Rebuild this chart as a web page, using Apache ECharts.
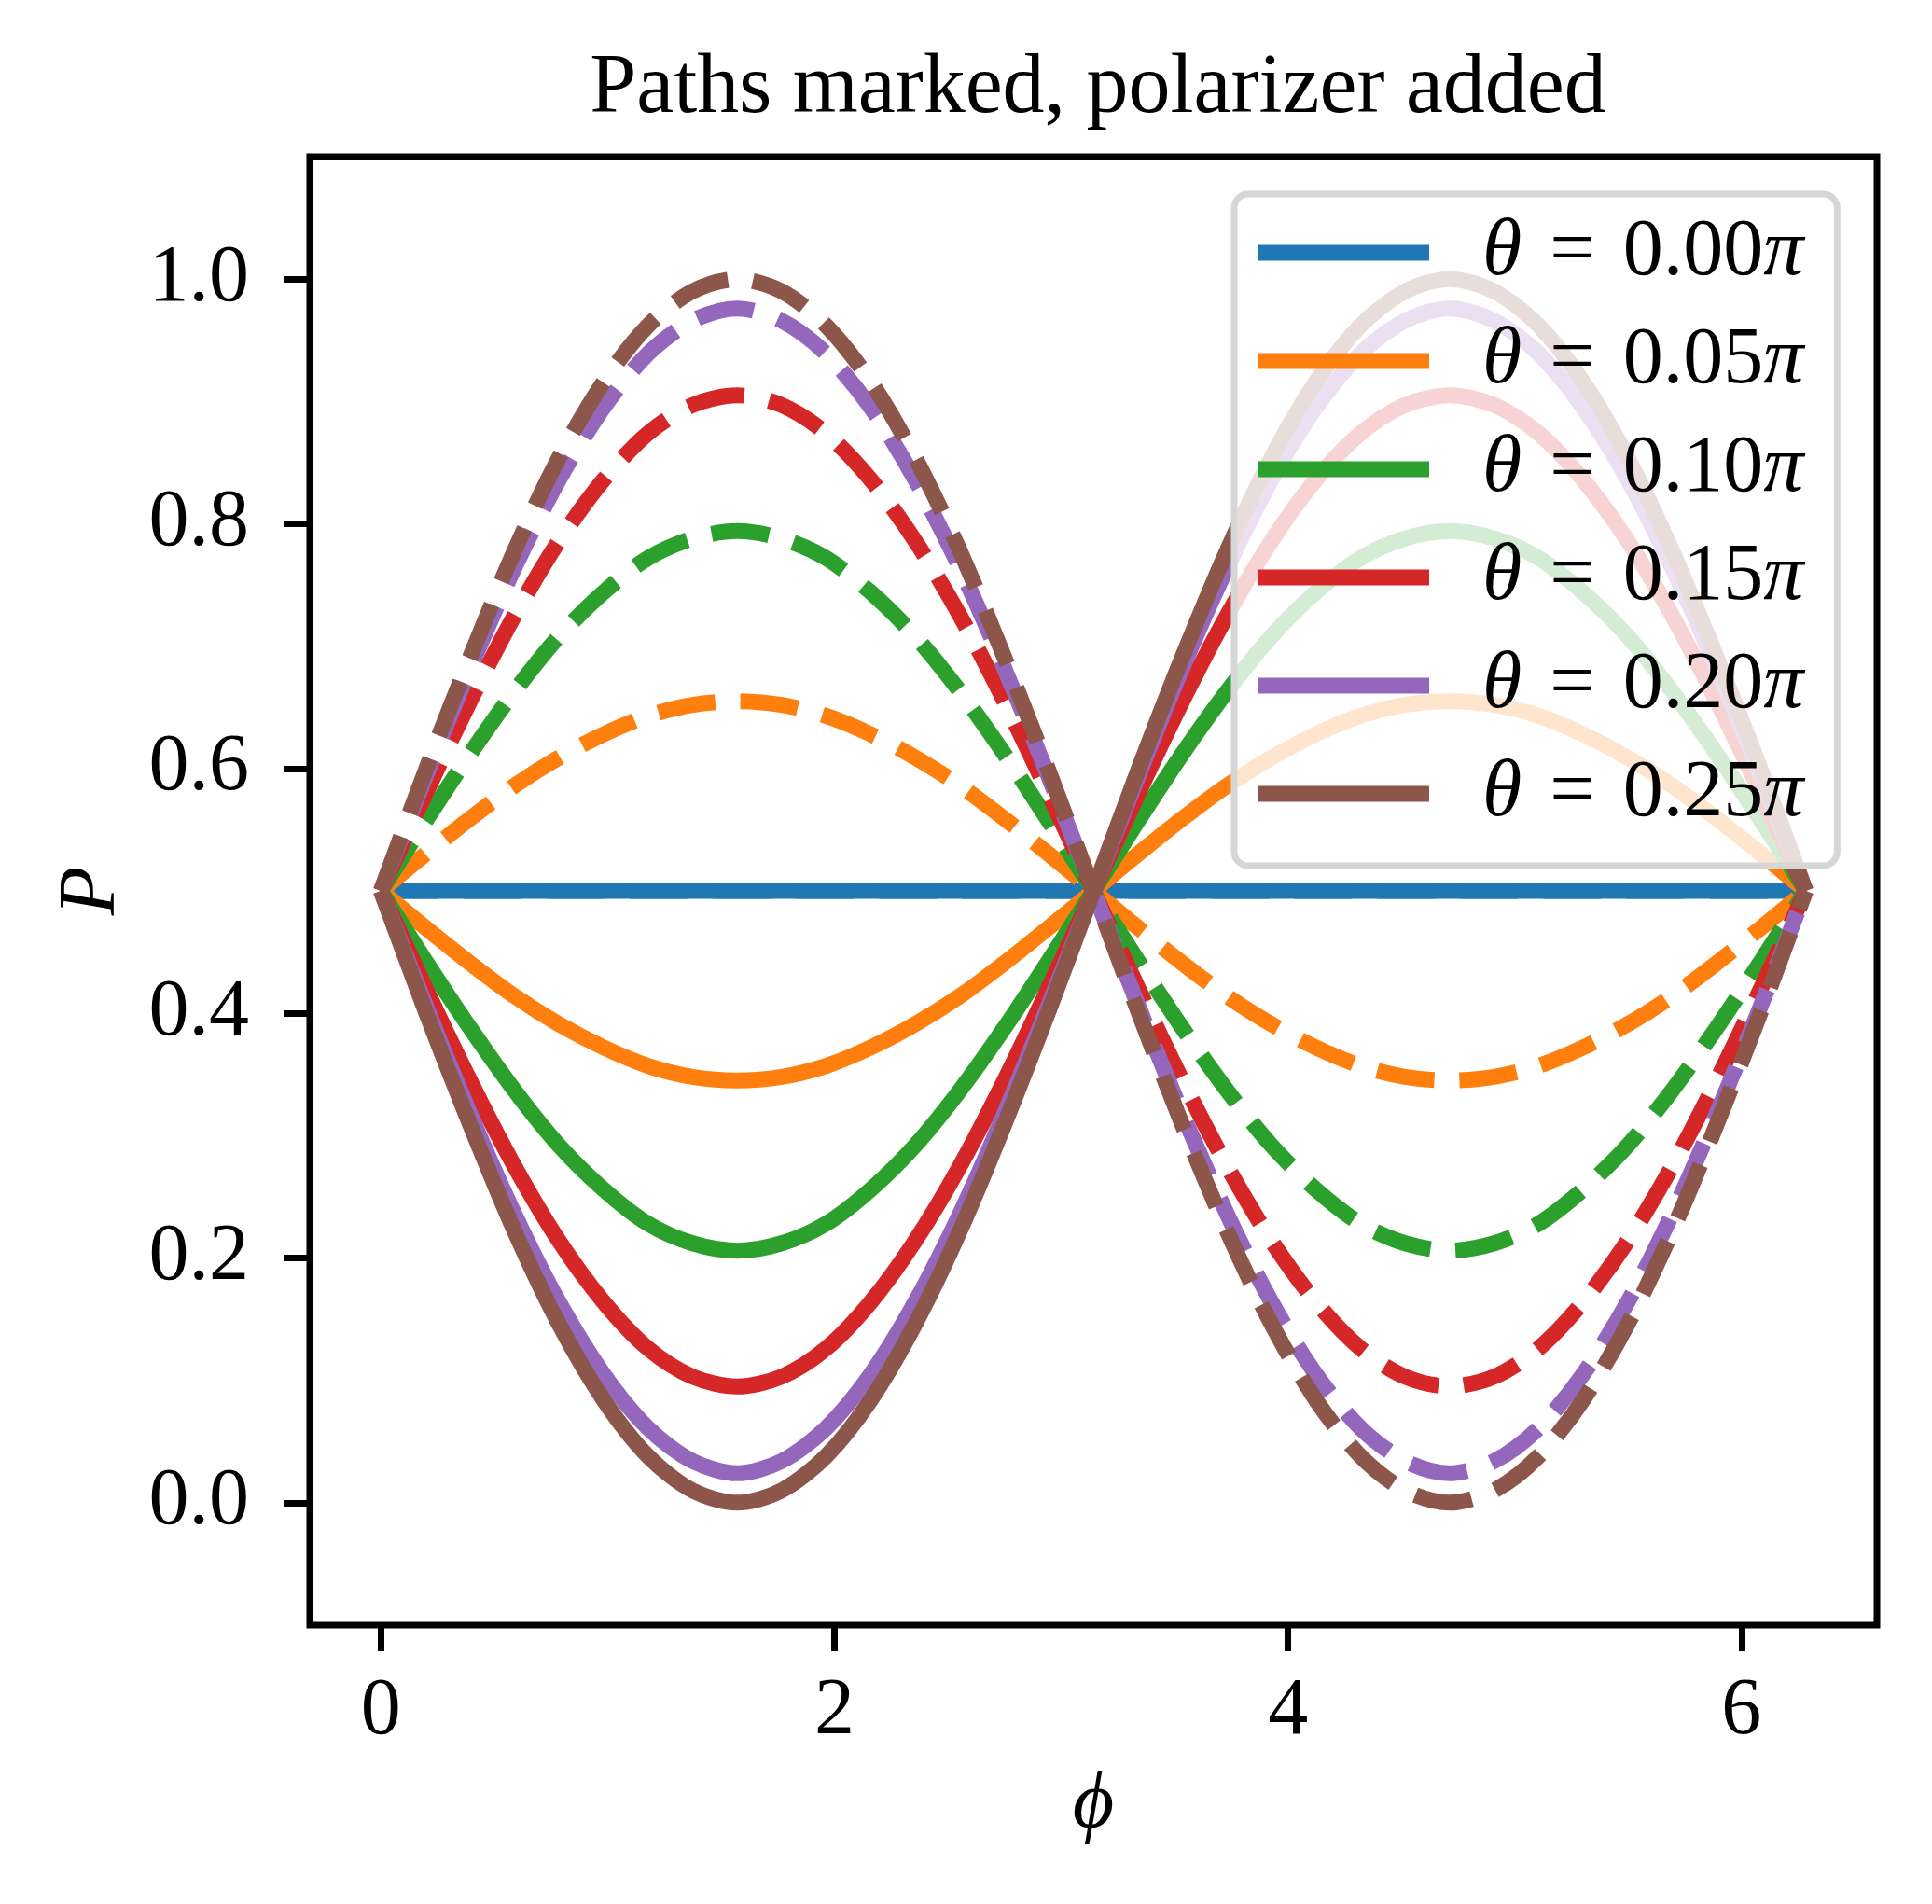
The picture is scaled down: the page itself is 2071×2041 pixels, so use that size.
<!DOCTYPE html>
<html>
<head>
<meta charset="utf-8">
<script src="https://cdn.jsdelivr.net/npm/echarts@6/dist/echarts.min.js"></script>
<style>
  html, body { margin: 0; padding: 0; background: #fff; }
  #chart { width: 2071px; height: 2041px; }
</style>
</head>
<body>
<div id="chart"></div>
<script>
// phase phi (x values), 0 .. 2pi
var phi = [0, 0.196, 0.393, 0.589, 0.785, 0.982, 1.178, 1.374, 1.571, 1.767, 1.963, 2.160, 2.356, 2.553, 2.749, 2.945,
  3.142, 3.338, 3.534, 3.731, 3.927, 4.123, 4.320, 4.516, 4.712, 4.909, 5.105, 5.301, 5.498, 5.694, 5.890, 6.087, 6.283];

var thetaLabels = ['0.00', '0.05', '0.10', '0.15', '0.20', '0.25'];
var colors = ['#1f77b4', '#ff7f0e', '#2ca02c', '#d62728', '#9467bd', '#8c564b'];

// solid curves
var solid000 = [0.500, 0.500, 0.500, 0.500, 0.500, 0.500, 0.500, 0.500, 0.500, 0.500, 0.500, 0.500, 0.500, 0.500, 0.500, 0.500,
  0.500, 0.500, 0.500, 0.500, 0.500, 0.500, 0.500, 0.500, 0.500, 0.500, 0.500, 0.500, 0.500, 0.500, 0.500, 0.500, 0.500];
var solid005 = [0.500, 0.470, 0.441, 0.414, 0.391, 0.372, 0.357, 0.348, 0.345, 0.348, 0.357, 0.372, 0.391, 0.414, 0.441, 0.470,
  0.500, 0.530, 0.559, 0.586, 0.609, 0.628, 0.643, 0.652, 0.655, 0.652, 0.643, 0.628, 0.609, 0.586, 0.559, 0.530, 0.500];
var solid010 = [0.500, 0.443, 0.388, 0.337, 0.292, 0.256, 0.228, 0.212, 0.206, 0.212, 0.228, 0.256, 0.292, 0.337, 0.388, 0.443,
  0.500, 0.557, 0.612, 0.663, 0.708, 0.744, 0.772, 0.788, 0.794, 0.788, 0.772, 0.744, 0.708, 0.663, 0.612, 0.557, 0.500];
var solid015 = [0.500, 0.421, 0.345, 0.275, 0.214, 0.164, 0.126, 0.103, 0.095, 0.103, 0.126, 0.164, 0.214, 0.275, 0.345, 0.421,
  0.500, 0.579, 0.655, 0.725, 0.786, 0.836, 0.874, 0.897, 0.905, 0.897, 0.874, 0.836, 0.786, 0.725, 0.655, 0.579, 0.500];
var solid020 = [0.500, 0.407, 0.318, 0.236, 0.164, 0.105, 0.061, 0.034, 0.024, 0.034, 0.061, 0.105, 0.164, 0.236, 0.318, 0.407,
  0.500, 0.593, 0.682, 0.764, 0.836, 0.895, 0.939, 0.966, 0.976, 0.966, 0.939, 0.895, 0.836, 0.764, 0.682, 0.593, 0.500];
var solid025 = [0.500, 0.402, 0.309, 0.222, 0.146, 0.084, 0.038, 0.010, 0.000, 0.010, 0.038, 0.084, 0.146, 0.222, 0.309, 0.402,
  0.500, 0.598, 0.691, 0.778, 0.854, 0.916, 0.962, 0.990, 1.000, 0.990, 0.962, 0.916, 0.854, 0.778, 0.691, 0.598, 0.500];

// dashed curves
var dashed000 = [0.500, 0.500, 0.500, 0.500, 0.500, 0.500, 0.500, 0.500, 0.500, 0.500, 0.500, 0.500, 0.500, 0.500, 0.500, 0.500,
  0.500, 0.500, 0.500, 0.500, 0.500, 0.500, 0.500, 0.500, 0.500, 0.500, 0.500, 0.500, 0.500, 0.500, 0.500, 0.500, 0.500];
var dashed005 = [0.500, 0.530, 0.559, 0.586, 0.609, 0.628, 0.643, 0.652, 0.655, 0.652, 0.643, 0.628, 0.609, 0.586, 0.559, 0.530,
  0.500, 0.470, 0.441, 0.414, 0.391, 0.372, 0.357, 0.348, 0.345, 0.348, 0.357, 0.372, 0.391, 0.414, 0.441, 0.470, 0.500];
var dashed010 = [0.500, 0.557, 0.612, 0.663, 0.708, 0.744, 0.772, 0.788, 0.794, 0.788, 0.772, 0.744, 0.708, 0.663, 0.612, 0.557,
  0.500, 0.443, 0.388, 0.337, 0.292, 0.256, 0.228, 0.212, 0.206, 0.212, 0.228, 0.256, 0.292, 0.337, 0.388, 0.443, 0.500];
var dashed015 = [0.500, 0.579, 0.655, 0.725, 0.786, 0.836, 0.874, 0.897, 0.905, 0.897, 0.874, 0.836, 0.786, 0.725, 0.655, 0.579,
  0.500, 0.421, 0.345, 0.275, 0.214, 0.164, 0.126, 0.103, 0.095, 0.103, 0.126, 0.164, 0.214, 0.275, 0.345, 0.421, 0.500];
var dashed020 = [0.500, 0.593, 0.682, 0.764, 0.836, 0.895, 0.939, 0.966, 0.976, 0.966, 0.939, 0.895, 0.836, 0.764, 0.682, 0.593,
  0.500, 0.407, 0.318, 0.236, 0.164, 0.105, 0.061, 0.034, 0.024, 0.034, 0.061, 0.105, 0.164, 0.236, 0.318, 0.407, 0.500];
var dashed025 = [0.500, 0.598, 0.691, 0.778, 0.854, 0.916, 0.962, 0.990, 1.000, 0.990, 0.962, 0.916, 0.854, 0.778, 0.691, 0.598,
  0.500, 0.402, 0.309, 0.222, 0.146, 0.084, 0.038, 0.010, 0.000, 0.010, 0.038, 0.084, 0.146, 0.222, 0.309, 0.402, 0.500];

var xTicks = [0, 2, 4, 6];
var yTicks = [0, 0.2, 0.4, 0.6, 0.8, 1.0];

var solids = [solid000, solid005, solid010, solid015, solid020, solid025];
var dasheds = [dashed000, dashed005, dashed010, dashed015, dashed020, dashed025];

var FONT = 'Liberation Serif';

function pairs(vals) {
  return phi.map(function (x, j) { return [x, vals[j]]; });
}

var series = [];
var legendNames = [];
for (var i = 0; i < solids.length; i++) {
  var nm = 'theta' + thetaLabels[i];
  legendNames.push(nm);
  series.push({
    name: nm, type: 'line', data: pairs(solids[i]), smooth: 0.3,
    symbol: 'none', color: colors[i],
    lineStyle: { width: 17, color: colors[i] }
  });
  series.push({
    name: nm + '_dashed', type: 'line', data: pairs(dasheds[i]), smooth: 0.3,
    symbol: 'none', color: colors[i],
    lineStyle: { width: 17, color: colors[i], type: [62, 27] }
  });
}

var chart = echarts.init(document.getElementById('chart'), null, { renderer: 'canvas' });
chart.setOption({
  animation: false,
  backgroundColor: '#fff',
  title: {
    text: 'Paths marked, polarizer added',
    left: 1172, top: 46, textAlign: 'center',
    textStyle: { fontFamily: FONT, fontSize: 90, fontWeight: 'normal', color: '#000' }
  },
  grid: {
    left: 332, top: 168, width: 1680, height: 1574,
    show: true, borderColor: '#000', borderWidth: 7, backgroundColor: 'transparent'
  },
  legend: {
    data: legendNames,
    orient: 'vertical',
    left: 1323, top: 208,
    icon: 'rect', itemWidth: 184, itemHeight: 17, itemGap: 16,
    padding: [13, 36, 27, 25],
    backgroundColor: 'rgba(255,255,255,0.8)',
    borderColor: '#d6d6d6', borderWidth: 7, borderRadius: 15,
    selectedMode: false,
    formatter: function (name) {
      return '{i|θ}{e|=}' + name.replace('theta', '') + '{i|π}';
    },
    textStyle: {
      fontFamily: FONT, fontSize: 86, color: '#000', lineHeight: 100,
      padding: [0, 0, 0, 52],
      rich: {
        i: { fontFamily: FONT, fontSize: 86, fontStyle: 'italic', lineHeight: 100 },
        e: { fontFamily: FONT, fontSize: 86, lineHeight: 100, padding: [0, 30, 0, 30] }
      }
    }
  },
  xAxis: {
    type: 'value', min: -0.314, max: 6.597,
    name: 'ϕ', nameLocation: 'middle', nameGap: 150,
    nameTextStyle: { fontFamily: FONT + ', DejaVu Serif', fontSize: 86, fontStyle: 'italic', color: '#000' },
    axisLine: { show: false, onZero: false },
    splitLine: { show: false },
    axisTick: { show: true, inside: false, length: 28, lineStyle: { color: '#000', width: 7 }, customValues: xTicks },
    axisLabel: { margin: 50, fontFamily: FONT, fontSize: 86, color: '#000', customValues: xTicks }
  },
  yAxis: {
    type: 'value', min: -0.1, max: 1.1,
    name: 'P', nameLocation: 'middle', nameGap: 190, nameRotate: 90,
    nameTextStyle: { fontFamily: FONT, fontSize: 86, fontStyle: 'italic', color: '#000' },
    axisLine: { show: false, onZero: false },
    splitLine: { show: false },
    axisTick: { show: true, inside: false, length: 28, lineStyle: { color: '#000', width: 7 }, customValues: yTicks },
    axisLabel: {
      margin: 65, fontFamily: FONT, fontSize: 86, color: '#000', customValues: yTicks,
      formatter: function (v) { return v.toFixed(1); }
    }
  },
  series: series
});
</script>
</body>
</html>
